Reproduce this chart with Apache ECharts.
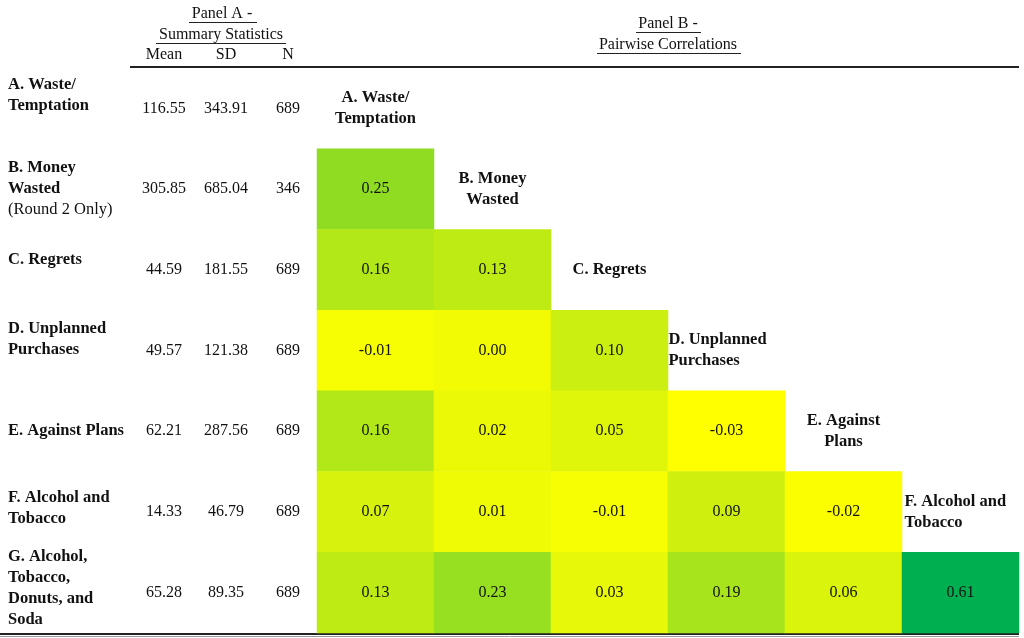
<!DOCTYPE html>
<html><head><meta charset="utf-8">
<script src="https://cdn.jsdelivr.net/npm/echarts@6/dist/echarts.min.js"></script>
<style>html,body{margin:0;padding:0;background:#fff}#c{width:1024px;height:638px}</style>
</head><body><div id="c"></div>
<script>
// ---- data ----
const rowKeys = ['A','B','C','D','E','F','G'];
const rowLabels = [
  '{b|A. Waste/}\n{b|Temptation}',
  '{b|B. Money}\n{b|Wasted}\n{n|(Round 2 Only)}',
  '{b|C. Regrets}',
  '{b|D. Unplanned}\n{b|Purchases}',
  '{b|E. Against Plans}',
  '{b|F. Alcohol and}\n{b|Tobacco}',
  '{b|G. Alcohol,}\n{b|Tobacco,}\n{b|Donuts, and}\n{b|Soda}'
];
const statCols = ['Mean','SD','N'];
const means = [116.55, 305.85, 44.59, 49.57, 62.21, 14.33, 65.28];
const sds   = [343.91, 685.04, 181.55, 121.38, 287.56, 46.79, 89.35];
const ns    = [689, 346, 689, 689, 689, 689, 689];
const corrCols = ['A','B','C','D','E','F'];
const diagLabels = ['A. Waste/\nTemptation','B. Money\nWasted','C. Regrets','D. Unplanned\nPurchases','E. Against\nPlans','F. Alcohol and\nTobacco'];
const corrB = [0.25];
const corrC = [0.16, 0.13];
const corrD = [-0.01, 0.00, 0.10];
const corrE = [0.16, 0.02, 0.05, -0.03];
const corrF = [0.07, 0.01, -0.01, 0.09, -0.02];
const corrG = [0.13, 0.23, 0.03, 0.19, 0.06, 0.61];
const panelA = ['Panel A -', 'Summary Statistics'];
const panelB = ['Panel B -', 'Pairwise Correlations'];

// ---- layout / style ----
const FONT = '"Liberation Serif", "Times New Roman", serif';
const TXT = '#111';
const FS = 16, FSB = 16.5;
const rowLabelShift = [13, 0, 10, 11, 0, 4, 4];
const corrRows = [null, corrB, corrC, corrD, corrE, corrF, corrG];

const heat = [];
corrRows.forEach((arr, r) => { if (arr) arr.forEach((v, c) => heat.push([c, r, v])); });
const stats = [];
rowKeys.forEach((k, r) => { stats.push([0, r, means[r]], [1, r, sds[r]], [2, r, ns[r]]); });
const diag = diagLabels.map((t, i) => {
  const d = { value: [i, i], name: t };
  if (i === 3) d.label = { align: 'left', offset: [-58, 0] };
  if (i === 5) d.label = { align: 'left', offset: [-56, 0] };
  return d;
});

const rich = {
  b: { fontFamily: FONT, fontWeight: 'bold', fontSize: FSB, lineHeight: 21, color: TXT },
  n: { fontFamily: FONT, fontSize: FSB, lineHeight: 21, color: TXT }
};
rowLabelShift.forEach(s => { if (s) rich['s' + s] = { fontSize: 1, lineHeight: 2 * s }; });

const chart = echarts.init(document.getElementById('c'), null, { renderer: 'canvas' });
const txt = (text, x, y) => ({ type: 'text', style: { text, x, y, align: 'center', verticalAlign: 'middle', font: FS + 'px ' + FONT, fill: TXT } });
const line = (x1, y1, x2, y2, w, c) => ({ type: 'line', shape: { x1, y1, x2, y2 }, style: { stroke: c || '#222', lineWidth: w || 1 } });
const hidden = { color: '#fff', opacity: 1 };

chart.setOption({
  animation: false,
  backgroundColor: '#fff',
  grid: [
    { left: 133, width: 186, top: 68, bottom: 5 },
    { left: 317, right: 5, top: 68, bottom: 5 }
  ],
  xAxis: [
    { type: 'category', gridIndex: 0, data: statCols, position: 'top',
      axisLine: { show: false }, axisTick: { show: false },
      axisLabel: { fontFamily: FONT, fontSize: FS, color: TXT, margin: 5 } },
    { type: 'category', gridIndex: 1, data: corrCols, show: false }
  ],
  yAxis: [
    { type: 'category', gridIndex: 0, data: rowKeys, inverse: true,
      axisLine: { show: false }, axisTick: { show: false }, splitLine: { show: false },
      axisLabel: { align: 'left', margin: 125, rich,
        formatter: (v, i) => rowLabels[i] + (rowLabelShift[i] ? '\n{s' + rowLabelShift[i] + '| }' : '') } },
    { type: 'category', gridIndex: 1, data: rowKeys, inverse: true, show: false }
  ],
  visualMap: { show: false, type: 'continuous', seriesIndex: 0, dimension: 2, min: -0.03, max: 0.61,
    inRange: { color: ['#FFFF00', '#00B050'] } },
  series: [
    { type: 'heatmap', xAxisIndex: 1, yAxisIndex: 1, data: heat,
      label: { show: true, fontFamily: FONT, fontSize: FS, color: TXT, formatter: p => p.value[2].toFixed(2) },
      emphasis: { disabled: true } },
    { type: 'scatter', xAxisIndex: 1, yAxisIndex: 1, data: diag, symbolSize: 0.5, z: 5,
      itemStyle: hidden, emphasis: { disabled: true },
      label: { show: true, position: 'inside', formatter: p => p.name, fontFamily: FONT, fontWeight: 'bold',
        fontSize: FSB, lineHeight: 21, color: TXT, textBorderWidth: 0, opacity: 1 } },
    { type: 'scatter', xAxisIndex: 0, yAxisIndex: 0, data: stats, symbolSize: 0.5, z: 5,
      itemStyle: hidden, emphasis: { disabled: true },
      label: { show: true, position: 'inside', fontFamily: FONT, fontSize: FS, color: TXT, textBorderWidth: 0, opacity: 1,
        formatter: p => p.value[0] === 2 ? String(p.value[2]) : p.value[2].toFixed(2) } }
  ],
  graphic: [
    txt(panelA[0], 222, 14), line(189, 22.5, 257, 22.5),
    txt(panelA[1], 221, 35), line(156, 43.5, 286, 43.5),
    txt(panelB[0], 668, 24), line(636, 32.5, 701, 32.5),
    txt(panelB[1], 668, 45), line(597, 53.5, 741, 53.5),
    line(130, 67, 1019, 67, 2, '#222'),
    line(0, 634, 1019, 634, 2, '#222'),
    line(0, 636.5, 1019, 636.5, 1, '#999')
  ]
});
</script></body></html>
